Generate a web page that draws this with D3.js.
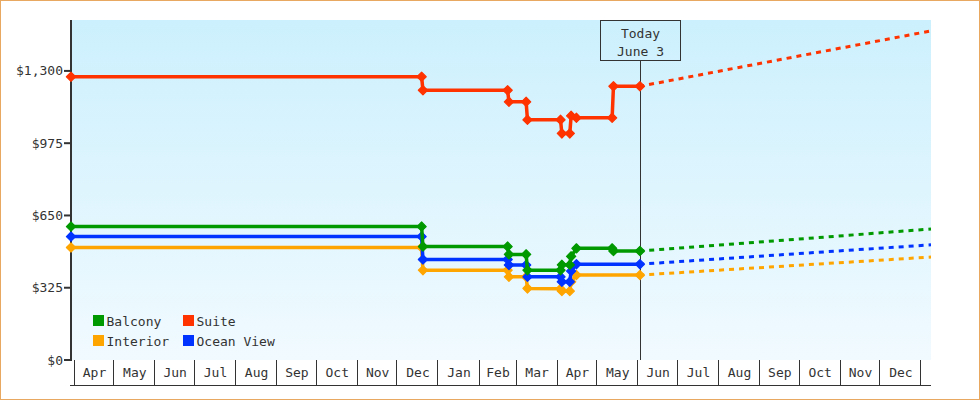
<!DOCTYPE html>
<html><head><meta charset="utf-8">
<script src="https://cdn.jsdelivr.net/npm/d3@7/dist/d3.min.js"></script>
<style>
body{margin:0;background:#fff}
svg{display:block}
text{font-family:"DejaVu Sans Mono",monospace;font-size:13px;fill:#333}
</style>
</head><body>
<svg id="c" width="980" height="400"></svg>
<script>
// ---- data ----
const seriesNames = ["Balcony", "Suite", "Interior", "Ocean View"];
const seriesColors = ["#009900", "#ff3300", "#ffa500", "#0033ff"];

const balconyDates = ["2013-03-30","2013-12-20","2013-12-21","2014-02-23","2014-02-24","2014-03-09","2014-03-10","2014-04-04","2014-04-05","2014-04-11","2014-04-12","2014-04-16","2014-05-13","2014-05-14","2014-06-03"];
const balconyValues = [600, 600, 510, 510, 475, 475, 404, 404, 428, 428, 466, 502, 502, 490, 490];

const suiteDates = ["2013-03-30","2013-12-20","2013-12-21","2014-02-23","2014-02-24","2014-03-09","2014-03-10","2014-04-04","2014-04-05","2014-04-11","2014-04-12","2014-04-16","2014-05-13","2014-05-14","2014-06-03"];
const suiteValues = [1274, 1274, 1213, 1213, 1161, 1161, 1080, 1080, 1019, 1019, 1098, 1089, 1089, 1231, 1231];

const interiorDates = ["2013-03-30","2013-12-20","2013-12-21","2014-02-23","2014-02-24","2014-03-09","2014-03-10","2014-04-04","2014-04-05","2014-04-11","2014-04-12","2014-04-16","2014-06-03"];
const interiorValues = [506, 506, 404, 404, 374, 374, 322, 320, 310, 310, 352, 382, 382];

const oceanDates = ["2013-03-30","2013-12-20","2013-12-21","2014-02-23","2014-02-24","2014-03-09","2014-03-10","2014-04-04","2014-04-05","2014-04-11","2014-04-12","2014-04-16","2014-06-03"];
const oceanValues = [555, 555, 452, 452, 427, 427, 374, 374, 352, 352, 400, 431, 431];

// projected (forecast) end values at end of range
const projectionEndDate = "2015-01-09";
const projectionEndValues = [589, 1480, 463, 518]; // Balcony, Suite, Interior, Ocean View

const todayDate = "2014-06-03";
const todayLabel = ["Today", "June 3"];
const yTicks = [0, 325, 650, 975, 1300];
const yMax = 1529;
const xStart = "2013-03-30";

// ---- setup ----
const parse = d3.timeParse("%Y-%m-%d");
const svg = d3.select("#c");
const W = 980, H = 400;
const L = 71, R = 931, T = 20, B = 360;

const x = d3.scaleTime().domain([parse(xStart), parse(projectionEndDate)]).range([L, R]);
const y = d3.scaleLinear().domain([0, yMax]).range([B, T]);

// outer border
svg.append("rect").attr("x", 0.5).attr("y", 0.5).attr("width", W - 1).attr("height", H - 1)
  .attr("fill", "#fff").attr("stroke", "#e9a862").attr("stroke-width", 1);

// gradient background
const defs = svg.append("defs");
const grad = defs.append("linearGradient").attr("id", "bg").attr("x1", 0).attr("y1", 0).attr("x2", 0).attr("y2", 1);
grad.append("stop").attr("offset", "0%").attr("stop-color", "#ccf0fd");
grad.append("stop").attr("offset", "100%").attr("stop-color", "#f1faff");
svg.append("rect").attr("x", L).attr("y", T).attr("width", R - L).attr("height", B - T).attr("fill", "url(#bg)");

// y axis
const yAxisG = svg.append("g");
yAxisG.append("line").attr("x1", L).attr("x2", L).attr("y1", T).attr("y2", B + 1)
  .attr("stroke", "#333").attr("stroke-width", 2);
const fmt = d3.format(",");
yTicks.forEach(v => {
  yAxisG.append("line").attr("x1", L - 7).attr("x2", L).attr("y1", y(v)).attr("y2", y(v))
    .attr("stroke", "#333").attr("stroke-width", 2);
  yAxisG.append("text").attr("x", 63).attr("y", y(v) + 4.5).attr("text-anchor", "end").text("$" + fmt(v));
});

// x axis month boxes
const xAxisG = svg.append("g");
const months = d3.timeMonths(x.domain()[0], x.domain()[1]);
const mfmt = d3.timeFormat("%b");
xAxisG.append("line").attr("x1", L - 1).attr("x2", R).attr("y1", 385.5).attr("y2", 385.5)
  .attr("stroke", "#333").attr("stroke-width", 1);
xAxisG.append("line").attr("x1", L - 0.5).attr("x2", L - 0.5).attr("y1", 355).attr("y2", 361)
  .attr("stroke", "#333").attr("stroke-width", 1);
months.forEach((m, i) => {
  const px = Math.round(x(m)) + 0.5;
  xAxisG.append("line").attr("x1", px).attr("x2", px).attr("y1", B).attr("y2", 385)
    .attr("stroke", "#333").attr("stroke-width", 1);
  const next = d3.timeMonth.offset(m, 1);
  if (next <= x.domain()[1]) {
    xAxisG.append("text").attr("x", (x(m) + x(next)) / 2 + 1).attr("y", 377)
      .attr("text-anchor", "middle").text(mfmt(m));
  }
});

// today marker
const tx = Math.round(x(parse(todayDate))) + 0.5;
svg.append("line").attr("x1", tx).attr("x2", tx).attr("y1", 60).attr("y2", B)
  .attr("stroke", "#333").attr("stroke-width", 1);
svg.append("rect").attr("x", tx - 40).attr("y", T + 0.5).attr("width", 80).attr("height", 40)
  .attr("fill", "none").attr("stroke", "#333").attr("stroke-width", 1);
svg.append("text").attr("x", tx).attr("y", 38).attr("text-anchor", "middle").text(todayLabel[0]);
svg.append("text").attr("x", tx).attr("y", 55.5).attr("text-anchor", "middle").text(todayLabel[1]);

// series
const seriesData = [
  {name: seriesNames[0], color: seriesColors[0], dates: balconyDates, values: balconyValues, proj: projectionEndValues[0]},
  {name: seriesNames[1], color: seriesColors[1], dates: suiteDates, values: suiteValues, proj: projectionEndValues[1]},
  {name: seriesNames[2], color: seriesColors[2], dates: interiorDates, values: interiorValues, proj: projectionEndValues[2]},
  {name: seriesNames[3], color: seriesColors[3], dates: oceanDates, values: oceanValues, proj: projectionEndValues[3]}
];
const drawOrder = [2, 3, 0, 1];
const line = d3.line().x(d => x(d.date)).y(d => y(d.value));
const diamond = "M0,-4.6L4.6,0L0,4.6L-4.6,0Z";

drawOrder.forEach(i => {
  const s = seriesData[i];
  const pts = s.dates.map((d, k) => ({date: parse(d), value: s.values[k]}));
  const last = pts[pts.length - 1];
  // projection
  svg.append("path").datum([last, {date: parse(projectionEndDate), value: s.proj}])
    .attr("d", line).attr("fill", "none").attr("stroke", s.color).attr("stroke-width", 3)
    .attr("stroke-dasharray", "5,5").attr("stroke-dashoffset", 0.7);
  svg.append("path").datum(pts).attr("d", line).attr("fill", "none")
    .attr("stroke", s.color).attr("stroke-width", 3.5).attr("stroke-linejoin", "round");
  svg.append("g").selectAll("path").data(pts).join("path")
    .attr("transform", d => `translate(${x(d.date)},${y(d.value)})`)
    .attr("d", diamond).attr("fill", s.color).attr("stroke", s.color)
    .attr("stroke-width", 1.2).attr("stroke-linejoin", "round");
});

// legend
const legendPos = [[93, 315], [183, 315], [93, 335], [183, 335]];
seriesData.forEach((s, i) => {
  const [lx, ly] = legendPos[i];
  svg.append("rect").attr("x", lx).attr("y", ly).attr("width", 11).attr("height", 11).attr("fill", s.color);
  svg.append("text").attr("x", lx + 13.5).attr("y", ly + 10.5).text(s.name);
});
</script>
</body></html>
